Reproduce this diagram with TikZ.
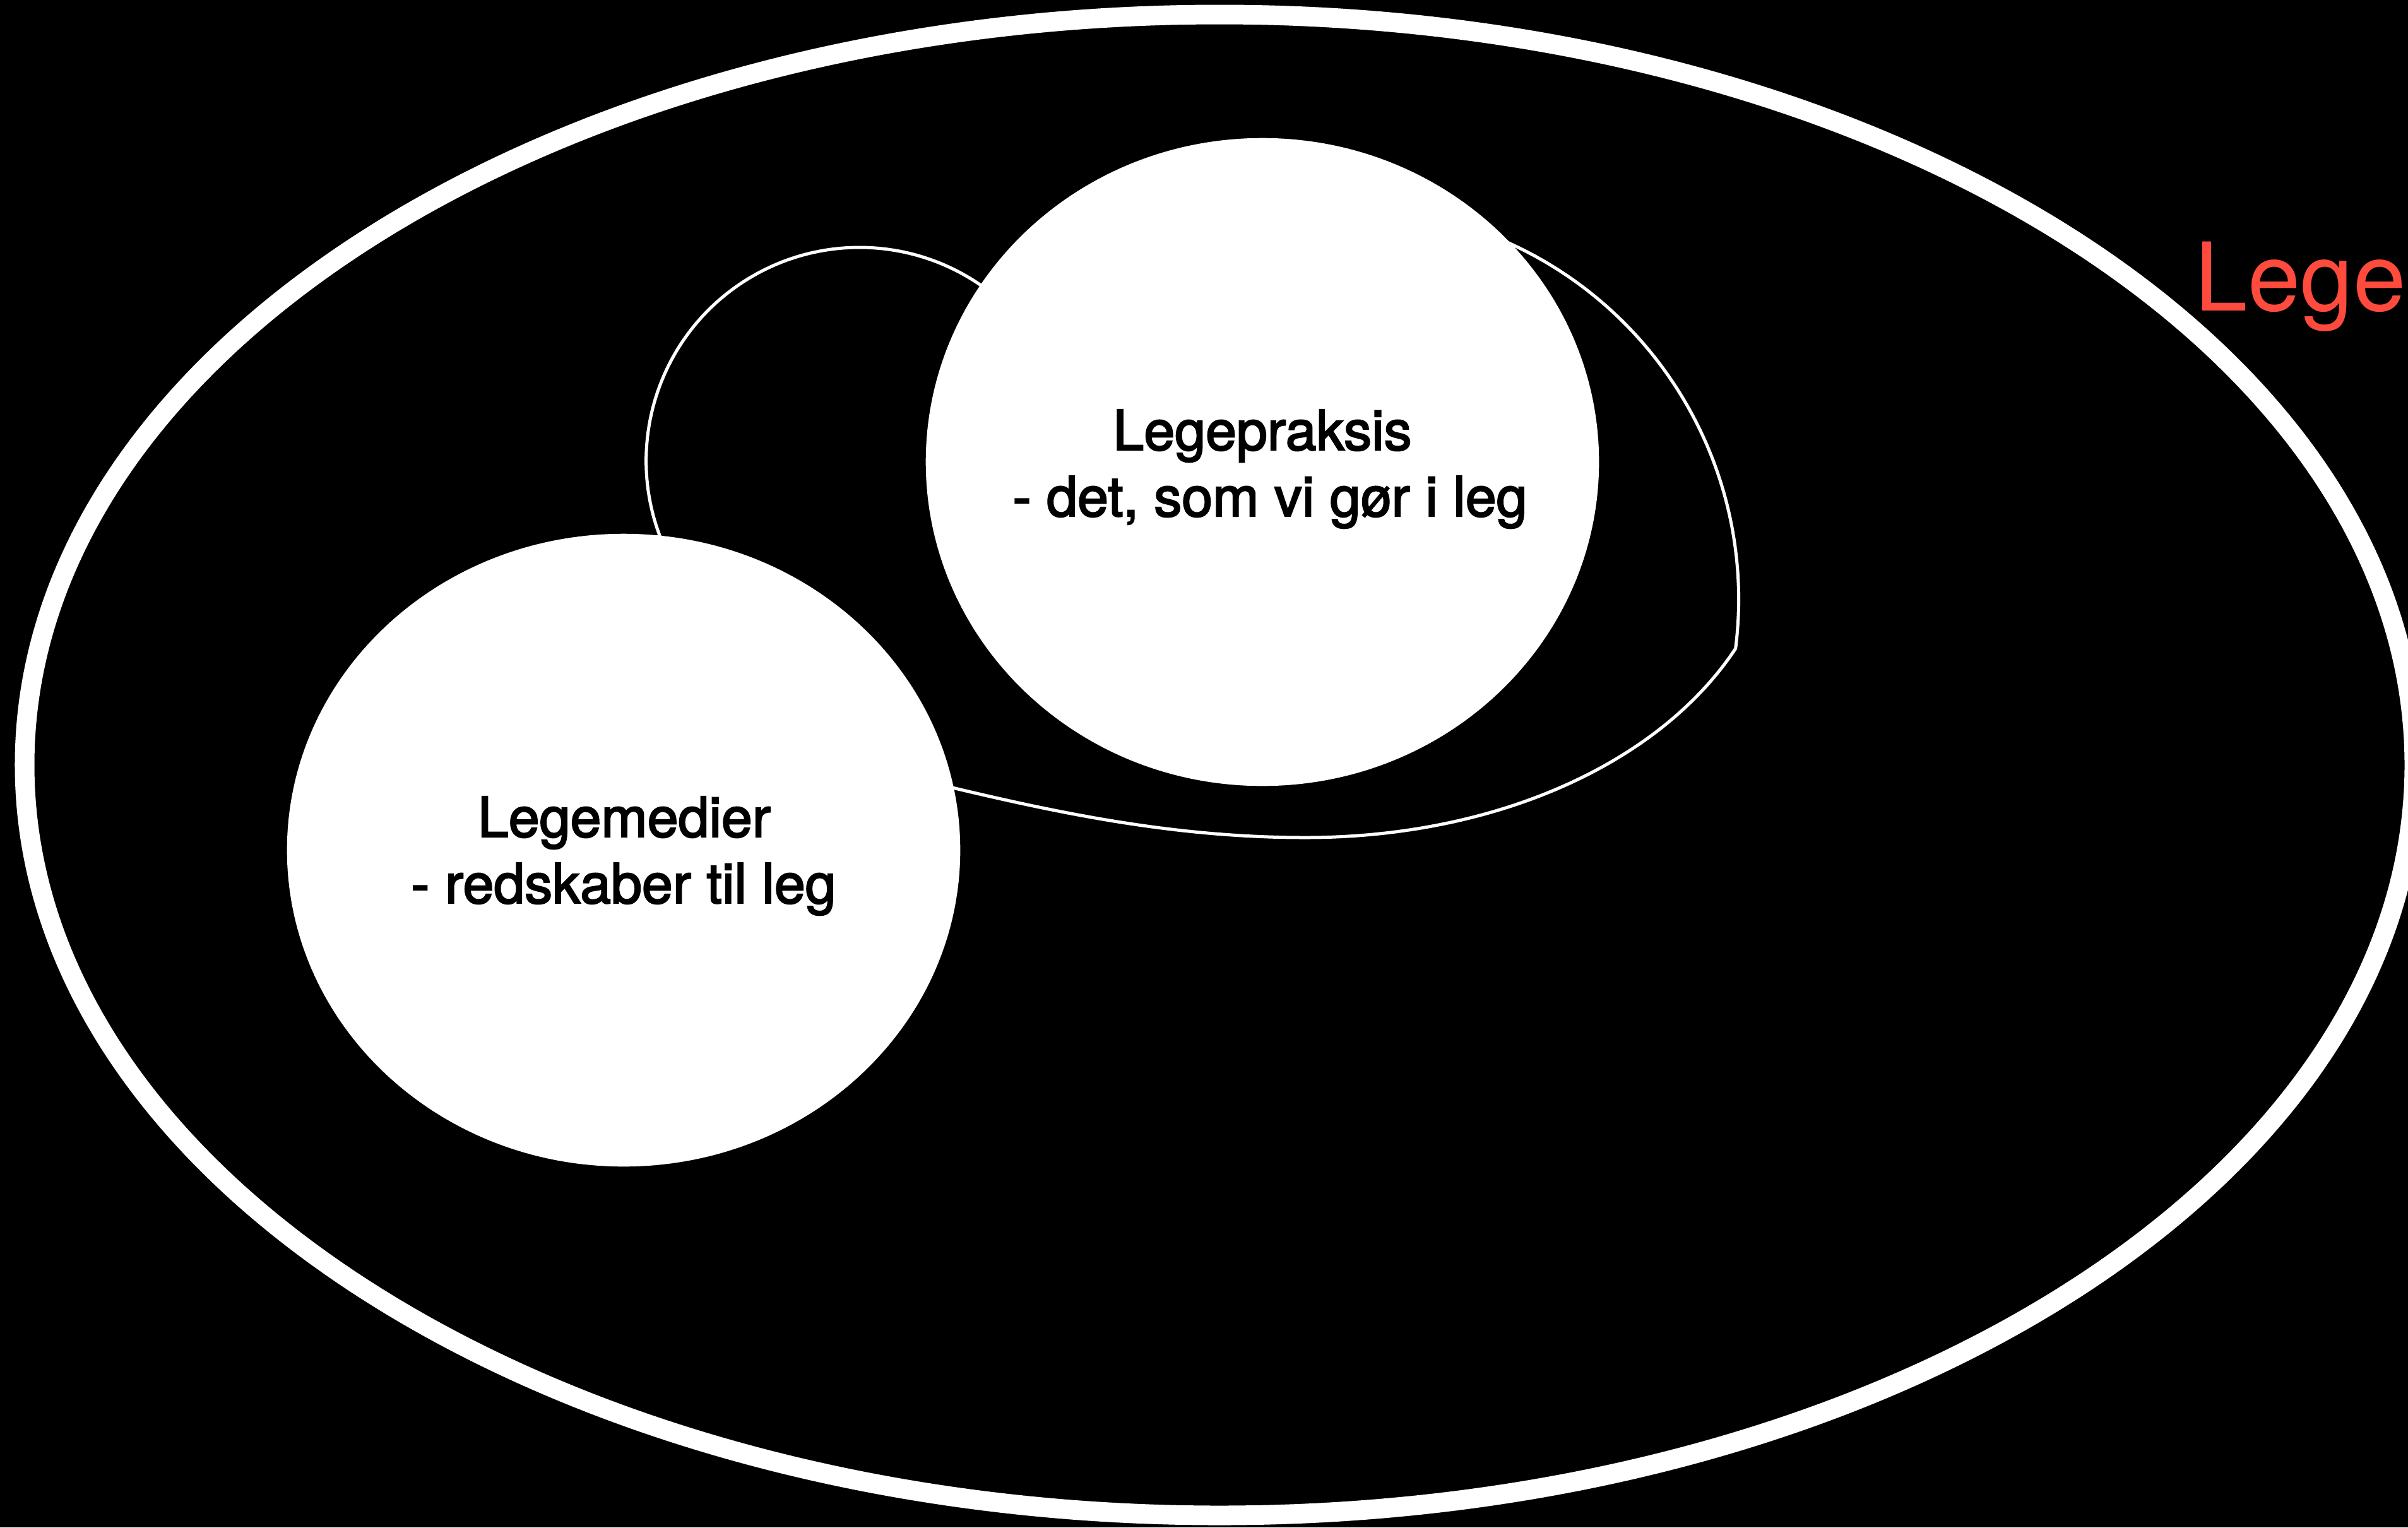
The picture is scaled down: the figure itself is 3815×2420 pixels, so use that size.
\documentclass[tikz,border=0pt]{standalone}
\usepackage{fontspec}
\setmainfont{TeX Gyre Heros}
\newfontfamily\medfont{TeX Gyre Heros}[FakeBold=2.6]
\usetikzlibrary{shapes.geometric}
\definecolor{legered}{RGB}{255,75,62}
\begin{document}
\begin{tikzpicture}[x=0.01cm,y=-0.01cm,
  outerring/.style={draw=white, line width=0.31cm},
  thinline/.style={draw=white, line width=0.05cm, line join=round},
  whiteblob/.style={ellipse, fill=white, inner sep=0pt, outer sep=0pt},
  txt/.style={inner sep=0pt, anchor=base, text=black, font=\medfont\fontsize{25}{30}\selectfont},
  redtitle/.style={inner sep=0pt, anchor=base west, text=legered, font=\fontsize{42.7}{50}\selectfont}]
\fill[black] (0,0) rectangle (3815,2420);
\useasboundingbox (0,0) rectangle (3815,2420);
% outer ellipse
\path[outerring] (1932,1212) ellipse [x radius=1893, y radius=1189];
% thin contour behind the two white blobs
\path[thinline] (1069,899) arc[start angle=150, end angle=310, radius=338]
  -- (2295,351) arc[start angle=-75, end angle=7.2, radius=620]
  .. controls (2628,1211) and (2368,1327) .. (2068,1327)
  .. controls (1868,1327) and (1689,1291) .. (1509,1248) -- cycle;
% white blobs
\node[whiteblob, minimum width=10.66cm, minimum height=10.26cm] (praksis) at (2000,732) {};
\node[whiteblob, minimum width=10.66cm, minimum height=10.02cm] (medier) at (988,1347) {};
% texts
\node[txt] (lp1) at (2000,713) {Legepraksis};
\node[txt] (lp2) at (2012,818) {- det, som vi gør i leg};
\node[txt] (lm1) at (989,1326) {Legemedier};
\node[txt] (lm2) at (988,1431) {- redskaber til leg};
\node[redtitle] (lege) at (3477,492) {Lege};
\end{tikzpicture}
\end{document}
